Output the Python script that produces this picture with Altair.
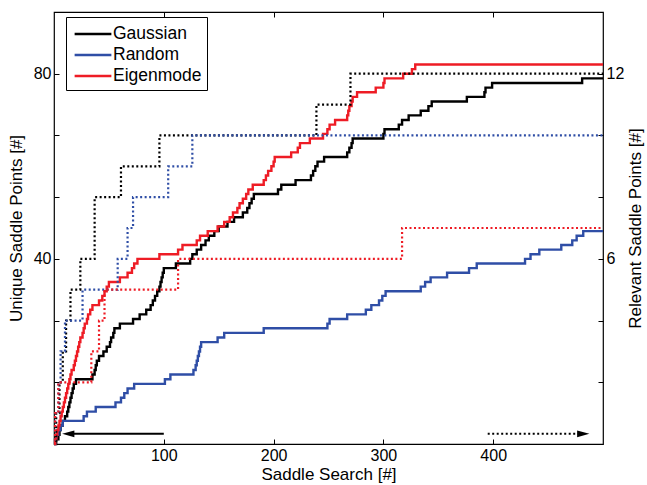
import altair as alt
import pandas as pd

# ---------------- data ----------------
methods = ["Gaussian", "Random", "Eigenmode"]
colors = ["#000000", "#2F4EA6", "#EE1C25"]

# Unique saddle points (left axis, solid)
gauss_x = [0, 2, 4, 5, 6, 8, 10, 12, 13, 14, 15, 16, 17, 18, 20, 35, 37, 38, 39, 41, 45, 48, 51, 52, 54, 55, 60,
           72, 78, 84, 88, 90, 92, 94, 96, 97, 98, 99, 100, 111, 124, 126, 130, 134, 138, 141, 146, 150, 158,
           164, 172, 176, 178, 180, 182, 204, 207, 220, 234, 236, 238, 240, 246, 267, 269, 271, 272, 300, 301,
           314, 317, 323, 334, 341, 344, 376, 392, 393, 399, 481, 500]
gauss_y = [0, 1, 2, 3, 4, 5, 6, 7, 8, 9, 10, 11, 12, 13, 14, 15, 16, 17, 18, 19, 20, 21, 22, 23, 24, 25, 26,
           27, 28, 29, 30, 31, 32, 33, 34, 35, 36, 37, 38, 39, 40, 41, 42, 43, 44, 45, 46, 47, 48,
           49, 50, 51, 52, 53, 54, 55, 56, 57, 58, 59, 60, 61, 62, 63, 64, 65, 66, 67, 68,
           69, 70, 71, 72, 73, 74, 75, 76, 77, 78, 79, 79]

random_x = [0, 1, 2, 4, 6, 8, 27, 30, 38, 56, 61, 64, 67, 73, 101, 106, 127, 129, 130, 131, 132, 133, 134, 149,
            155, 191, 249, 251, 267, 284, 289, 296, 299, 302, 334, 338, 343, 358, 378, 385, 429, 434, 442, 462,
            472, 476, 482, 500]
random_y = [0, 1, 2, 3, 4, 5, 6, 7, 8, 9, 10, 11, 12, 13, 14, 15, 16, 17, 18, 19, 20, 21, 22, 23,
            24, 25, 26, 27, 28, 29, 30, 31, 32, 33, 34, 35, 36, 37, 38, 39, 40, 41, 42, 43,
            44, 45, 46, 46]

eigen_x = [0, 1, 2, 3, 4, 5, 6, 7, 8, 9, 10, 11, 12, 13, 14, 15, 16, 18, 19, 20, 21, 22, 23, 24, 26, 27, 28,
           30, 31, 33, 35, 41, 44, 46, 48, 50, 60, 67, 71, 73, 76, 96, 113, 117, 130, 133, 140, 149, 155,
           160, 163, 167, 169, 172, 175, 177, 181, 191, 193, 195, 198, 200, 201, 216, 222, 224, 233, 245,
           249, 251, 256, 267, 268, 269, 271, 272, 276, 293, 300, 301, 318, 326, 329, 500]
eigen_y = [0, 1, 2, 3, 4, 5, 6, 7, 8, 9, 10, 11, 12, 13, 14, 15, 16, 17, 18, 19, 20, 21, 22, 23, 24, 25, 26,
           27, 28, 29, 30, 31, 32, 33, 34, 35, 36, 37, 38, 39, 40, 41, 42, 43, 44, 45, 46, 47, 48,
           49, 50, 51, 52, 53, 54, 55, 56, 57, 58, 59, 60, 61, 62, 63, 64, 65, 66, 67,
           68, 69, 70, 71, 72, 73, 74, 75, 76, 77, 78, 79, 80, 81, 82, 82]

# Relevant saddle points (right axis, dotted)
gauss_rel_x = [0, 2, 5, 8, 11, 15, 24, 37, 61, 96, 239, 270, 500]
gauss_rel_y = [0, 1, 2, 3, 4, 5, 6, 8, 9, 10, 11, 12, 12]
random_rel_x = [0, 1, 4, 6, 10, 26, 58, 67, 72, 104, 126, 500]
random_rel_y = [0, 1, 2, 3, 4, 5, 6, 7, 8, 9, 10, 10]
eigen_rel_x = [0, 1, 4, 34, 41, 46, 113, 317, 500]
eigen_rel_y = [0, 1, 2, 3, 4, 5, 6, 7, 7]

# axes
x_ticks = [100, 200, 300, 400]
left_ticks = [40 / 3, 80 / 3, 40, 160 / 3, 200 / 3, 80]
right_ticks = [2, 4, 6, 8, 10, 12]

# arrows (which axis the line styles belong to)
arrow_solid_x = [100, 16]
arrow_dotted_x = [395, 478]
arrow_y = 2.2
head_solid_x = [13]
head_dotted_x = [482]

# ---------------- tables ----------------
def table(xs, ys, name):
    return pd.DataFrame({"x": xs, "y": ys, "method": name})

solid_df = pd.concat([table(gauss_x, gauss_y, "Gaussian"),
                      table(random_x, random_y, "Random"),
                      table(eigen_x, eigen_y, "Eigenmode")])
dotted_df = pd.concat([table(gauss_rel_x, gauss_rel_y, "Gaussian"),
                       table(random_rel_x, random_rel_y, "Random"),
                       table(eigen_rel_x, eigen_rel_y, "Eigenmode")])

FONT = "Liberation Sans"
xscale = alt.Scale(domain=[0, 500], nice=False, zero=False)
lscale = alt.Scale(domain=[0, 280 / 3], nice=False)
rscale = alt.Scale(domain=[0, 14], nice=False)
cscale = alt.Scale(domain=methods, range=colors)
inward = {"expr": "-5"}
common = dict(labelFont=FONT, titleFont=FONT, labelFontSize=16, titleFontSize=17, labelColor="black",
              titleColor="black", tickColor="black", tickWidth=1, titleFontWeight="normal",
              domain=False, grid=False, tickSize=inward)

x_bottom = alt.Axis(values=x_ticks, title="Saddle Search [#]", orient="bottom",
                    labelPadding=8, format="d", titlePadding=3, **common)
x_top = alt.Axis(values=x_ticks, title=None, orient="top", labels=False, **common)
y_left = alt.Axis(values=left_ticks, orient="left", labelPadding=8,
                  labelExpr="(round(datum.value)==40 || round(datum.value)==80) ? format(datum.value,'d') : ''",
                  title="Unique Saddle Points [#]", titlePadding=8, **common)
y_right = alt.Axis(values=right_ticks, orient="right", labelPadding=8,
                   labelExpr="(datum.value==6 || datum.value==12) ? format(datum.value,'d') : ''",
                   title="Relevant Saddle Points [#]", titleAngle=270, titlePadding=21, **common)

solid = alt.Chart(solid_df).mark_line(interpolate="step-after", strokeWidth=2.4).encode(
    x=alt.X("x:Q", scale=xscale, axis=x_bottom),
    y=alt.Y("y:Q", scale=lscale, axis=y_left),
    color=alt.Color("method:N", scale=cscale, sort=methods,
                    legend=alt.Legend(title=None, orient="none", legendX=12, legendY=5,
                                      symbolType="M-1.75,0H1.75", symbolStrokeWidth=2.4, symbolSize=441,
                                      symbolOffset=10,
                                      labelFontSize=17.5, labelFont=FONT, labelColor="black",
                                      strokeColor="black", fillColor="white", padding=5,
                                      rowPadding=0, labelOffset=8)),
    detail="method:N",
)

arrow_solid = alt.Chart(pd.DataFrame({"x": arrow_solid_x, "y": [arrow_y] * 2})).mark_line(
    color="black", strokeWidth=2).encode(
    x=alt.X("x:Q", scale=xscale, axis=x_top), y=alt.Y("y:Q", scale=lscale, axis=y_left))
arrow_dotted = alt.Chart(pd.DataFrame({"x": arrow_dotted_x, "y": [arrow_y] * 2})).mark_line(
    color="black", strokeWidth=2, strokeDash=[2, 2.5]).encode(
    x=alt.X("x:Q", scale=xscale, axis=None), y=alt.Y("y:Q", scale=lscale, axis=y_left))
head_left = alt.Chart(pd.DataFrame({"x": head_solid_x, "y": [arrow_y]})).mark_point(
    shape="M-1,0L1,-0.55L1,0.55Z", filled=True, color="black", size=150, opacity=1).encode(
    x=alt.X("x:Q", scale=xscale, axis=None), y=alt.Y("y:Q", scale=lscale, axis=y_left))
head_right = alt.Chart(pd.DataFrame({"x": head_dotted_x, "y": [arrow_y]})).mark_point(
    shape="M1,0L-1,-0.55L-1,0.55Z", filled=True, color="black", size=150, opacity=1).encode(
    x=alt.X("x:Q", scale=xscale, axis=None), y=alt.Y("y:Q", scale=lscale, axis=y_left))

left_group = alt.layer(solid, arrow_solid, arrow_dotted, head_left, head_right).resolve_axis(x="independent")

dotted = alt.Chart(dotted_df).mark_line(interpolate="step-after", strokeWidth=2.2,
                                        strokeDash=[2, 2.5]).encode(
    x=alt.X("x:Q", scale=xscale, axis=None),
    y=alt.Y("y:Q", scale=rscale, axis=y_right),
    color=alt.Color("method:N", scale=cscale, legend=None),
    detail="method:N",
)

chart = alt.layer(left_group, dotted).resolve_scale(y="independent").resolve_axis(x="independent").properties(
    width=549, height=432,
    autosize=alt.AutoSizeParams(type="none"),
    padding={"left": 54, "top": 12, "right": 44, "bottom": 41},
    background="white",
).configure_view(stroke="black", strokeWidth=1.2)

chart.save("out.html", embed_options={"renderer": "svg", "actions": False})
